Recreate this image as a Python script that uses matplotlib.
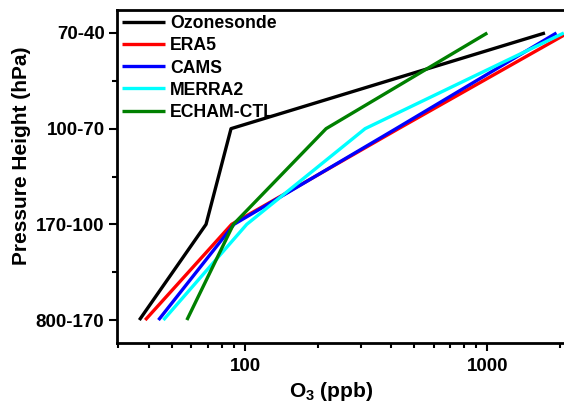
import numpy as np
import matplotlib
matplotlib.use("Agg")
import matplotlib.pyplot as plt
from matplotlib.ticker import FixedLocator, LogLocator, NullFormatter

plt.rcParams["font.family"] = ["Liberation Sans", "DejaVu Sans"]
plt.rcParams["font.weight"] = "bold"
plt.rcParams["mathtext.fontset"] = "custom"
plt.rcParams["mathtext.rm"] = "Liberation Sans:bold"
plt.rcParams["mathtext.default"] = "rm"

# ---------------------------------------------------------------------------
# Data (O3 in ppb per pressure layer, bottom -> top)
# ---------------------------------------------------------------------------
levels     = ["800-170", "170-100", "100-70", "70-40"]
ozonesonde = [36.6, 69, 87.5, 1730]
era5       = [38.7, 88, 430, 2150]
cams       = [43.9, 90, 420, 1930]
merra2     = [46, 101.6, 313, 2070]
echam_ctl  = [57.5, 89.5, 216, 1000]

series = [
    ("Ozonesonde", ozonesonde, "black"),
    ("ERA5",       era5,       "#ff0000"),
    ("CAMS",       cams,       "#0000ff"),
    ("MERRA2",     merra2,     "#00ffff"),
    ("ECHAM-CTL",  echam_ctl,  "#008000"),
]

# ---------------------------------------------------------------------------
# Chart
# ---------------------------------------------------------------------------
fig = plt.figure(figsize=(5.64, 4.09), dpi=100)
ax = fig.add_axes([117 / 564, 1 - 343 / 409, 1 - 117 / 564, 333 / 409])

y = np.arange(len(levels))
for name, vals, col in series:
    ax.plot(vals, y, color=col, lw=2.4, label=name, solid_capstyle="butt")

ax.set_xscale("log")
ax.set_xlim(29.6, 2073)
ax.set_ylim(-0.24, 3.24)

ax.set_yticks(y)
ax.set_yticklabels(levels)
ax.yaxis.set_minor_locator(FixedLocator([0.5, 1.5, 2.5]))
ax.xaxis.set_major_locator(FixedLocator([100, 1000]))
ax.set_xticklabels(["100", "1000"])
ax.xaxis.set_minor_locator(LogLocator(base=10, subs=np.arange(2, 10)))
ax.xaxis.set_minor_formatter(NullFormatter())

ax.tick_params(axis="both", which="major", direction="out", length=6, width=1.5,
               labelsize=13.5, pad=3)
ax.tick_params(axis="x", which="major", pad=5)
ax.tick_params(axis="both", which="minor", direction="out", length=3.5, width=1.5)
for lab in ax.get_xticklabels() + ax.get_yticklabels():
    lab.set_fontweight("bold")

for side in ["left", "bottom", "top"]:
    ax.spines[side].set_linewidth(2)
ax.spines["right"].set_visible(False)

ax.set_xlabel(r"O$_3$ (ppb)", fontsize=15, fontweight="bold")
ax.set_ylabel("Pressure Height (hPa)", fontsize=15, fontweight="bold")
# labels sit a bit off-centre in the original
ax.xaxis.set_label_coords(0.479, -0.111)
ax.yaxis.set_label_coords(-0.192, 0.562)

leg = ax.legend(loc="upper left", frameon=False, fontsize=12.7,
                handlelength=2.4, handletextpad=0.3, labelspacing=0.29,
                borderaxespad=0.15, borderpad=0.15)
for t in leg.get_texts():
    t.set_fontweight("bold")

fig.savefig("out.png", dpi=100)
plt.close(fig)
